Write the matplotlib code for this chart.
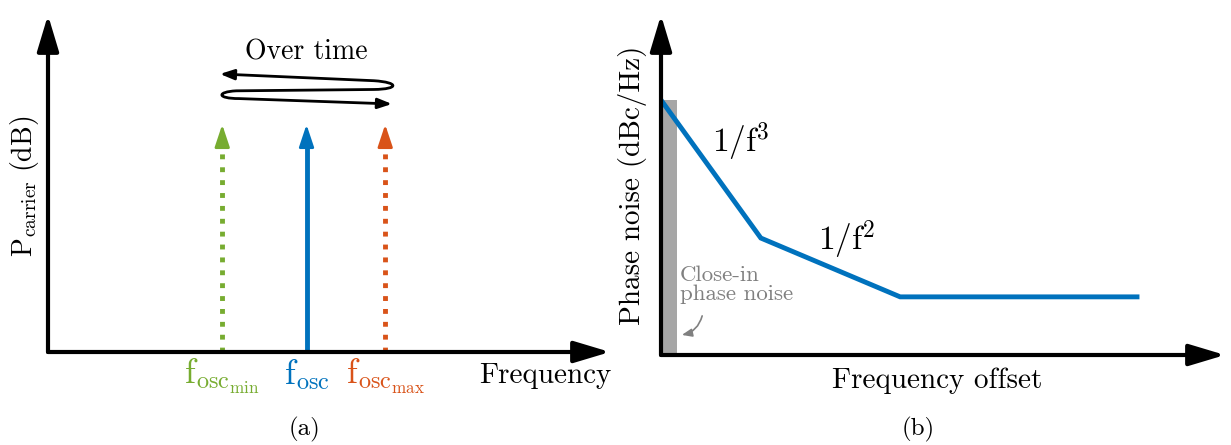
import numpy as np
import matplotlib.pyplot as plt
from matplotlib.path import Path
from matplotlib.patches import FancyArrowPatch, Rectangle

plt.rcParams['font.family'] = 'cmr10'
plt.rcParams['mathtext.fontset'] = 'cm'
plt.rcParams['axes.unicode_minus'] = False

# panel (a): carrier frequencies (fraction of axis) and heights
carrier_freq = [0.31, 0.46, 0.60]
carrier_height = [0.675, 0.675, 0.675]
carrier_colors = ['#77AC30', '#0072BD', '#D95319']
carrier_styles = [':', '-', ':']
carrier_labels = [r'$\mathrm{f}_{\mathrm{osc}_{\mathrm{min}}}$',
                  r'$\mathrm{f}_{\mathrm{osc}}$',
                  r'$\mathrm{f}_{\mathrm{osc}_{\mathrm{max}}}$']

# panel (b): piecewise phase-noise profile (fraction of axis)
pn_x = [0.0, 0.177, 0.424, 0.844]
pn_y = [0.75, 0.344, 0.171, 0.171]
closein_width = 0.028

blue = '#0072BD'

fig = plt.figure(figsize=(12.31, 4.45), dpi=100)

def axis_arrow(ax, start, end):
    ax.annotate('', xy=end, xytext=start, xycoords='data',
                arrowprops=dict(arrowstyle='-|>,head_length=1.1,head_width=0.33',
                                lw=3.0, color='k', shrinkA=0, shrinkB=0,
                                mutation_scale=20), annotation_clip=False)

# ---------------- panel (a) ----------------
ax1 = fig.add_axes([48 / 1231, 93 / 445, 562 / 1231, 337 / 445])
ax1.set_xlim(0, 1)
ax1.set_ylim(0, 1)
ax1.axis('off')
axis_arrow(ax1, (0, 0), (0, 1))
axis_arrow(ax1, (0, 0), (1, 0))

for f, h, c, ls, lab in zip(carrier_freq, carrier_height, carrier_colors,
                            carrier_styles, carrier_labels):
    ax1.plot([f, f], [0, h - 0.045], color=c, lw=3.5, ls=ls,
             solid_capstyle='butt', dash_capstyle='butt')
    ax1.annotate('', xy=(f, h), xytext=(f, h - 0.055),
                 arrowprops=dict(arrowstyle='-|>,head_length=0.75,head_width=0.25',
                                 lw=2, color=c, shrinkA=0, shrinkB=0,
                                 mutation_scale=18))
    ax1.text(f, -0.015, lab, color=c, fontsize=25, ha='center', va='top')

ax1.text(-0.041, 0.49, r'$\mathrm{P}_{\mathrm{carrier}}\ \mathrm{(dB)}$',
         rotation=90, fontsize=20, ha='center', va='center')
ax1.text(0.884, -0.071, 'Frequency', fontsize=21, ha='center', va='center')
ax1.text(0.457, -0.231, '(a)', fontsize=18, ha='center', va='center')
ax1.text(0.459, 0.89, 'Over time', fontsize=20, ha='center', va='center')

# "over time" looping arrow
loop_verts = [(0.306, 0.825), (0.58, 0.805),
              (0.625, 0.80), (0.625, 0.78), (0.58, 0.779),
              (0.335, 0.775),
              (0.30, 0.772), (0.30, 0.752), (0.34, 0.752),
              (0.612, 0.736)]
loop_codes = [Path.MOVETO, Path.LINETO,
              Path.CURVE4, Path.CURVE4, Path.CURVE4,
              Path.LINETO,
              Path.CURVE4, Path.CURVE4, Path.CURVE4,
              Path.LINETO]
ax1.add_patch(FancyArrowPatch(path=Path(loop_verts, loop_codes),
                              arrowstyle='<|-|>,head_length=0.6,head_width=0.22',
                              mutation_scale=14, lw=2, color='k'))

# ---------------- panel (b) ----------------
ax2 = fig.add_axes([661 / 1231, 90 / 445, 564 / 1231, 340 / 445])
ax2.set_xlim(0, 1)
ax2.set_ylim(0, 1)
ax2.axis('off')
ax2.add_patch(Rectangle((0, 0), closein_width, pn_y[0], facecolor='#a6a6a6',
                        edgecolor='none'))
ax2.plot(pn_x, pn_y, color=blue, lw=3.5, solid_joinstyle='miter')
axis_arrow(ax2, (0, 0), (0, 1))
axis_arrow(ax2, (0, 0), (1, 0))

ax2.text(0.09, 0.626, r'$1/\mathrm{f}^3$', fontsize=24, ha='left', va='center')
ax2.text(0.278, 0.338, r'$1/\mathrm{f}^2$', fontsize=24, ha='left', va='center')
ax2.text(0.033, 0.206, 'Close-in\nphase noise', color='#808080', fontsize=16.5,
         ha='left', va='center', linespacing=0.95)
ax2.annotate('', xy=(0.037, 0.059), xytext=(0.073, 0.115),
             arrowprops=dict(arrowstyle='-|>,head_length=0.5,head_width=0.2',
                             lw=1.2, color='#808080', shrinkA=0, shrinkB=0,
                             connectionstyle='arc3,rad=-0.3', mutation_scale=12))

ax2.text(-0.051, 0.5, 'Phase noise (dBc/Hz)', rotation=90, fontsize=21,
         ha='center', va='center')
ax2.text(0.49, -0.076, 'Frequency offset', fontsize=21, ha='center', va='center')
ax2.text(0.456, -0.22, '(b)', fontsize=18, ha='center', va='center')

fig.savefig('out.png', dpi=100)
